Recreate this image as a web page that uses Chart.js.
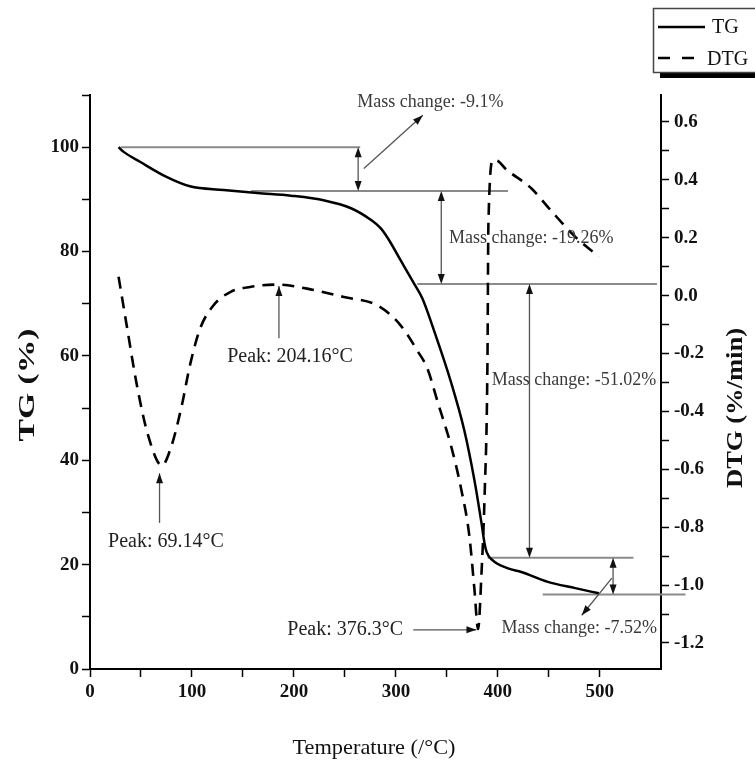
<!DOCTYPE html>
<html>
<head>
<meta charset="utf-8">
<script src="https://cdn.jsdelivr.net/npm/chart.js@4.4.1/dist/chart.umd.min.js"></script>
<style>
  html, body { margin: 0; padding: 0; background: #fff; }
</style>
</head>
<body>
<canvas id="tga" width="755" height="767"></canvas>
<script>
// TG curve (solid line): temperature (°C) and remaining mass (%)
const tgTemp = [28, 33, 49, 75, 98, 131, 164, 197, 230, 256, 276, 285, 292, 305, 318, 326, 338, 354, 367, 377, 384, 387, 389, 395, 410, 423, 449, 476, 499];
const tgMass = [100, 99.1, 97.2, 94.3, 92.5, 91.8, 91.2, 90.7, 89.8, 88.3, 86.0, 84.5, 82.6, 78.2, 73.8, 71.0, 64.5, 55.0, 45.8, 36.2, 27.9, 24.0, 22.4, 20.8, 19.3, 18.6, 16.7, 15.5, 14.5];

// DTG curve (dashed line): temperature (°C) and rate (%/min)
const dtgTemp = [28, 36, 46, 57, 70.5, 80, 90, 98, 108, 121, 138, 157, 185, 213, 249, 282, 304, 321, 331, 341, 354, 364, 372, 377, 380.6, 384, 387, 389.8, 390.7, 395.4, 400.6, 407, 433, 453, 476, 499];
const dtgRate = [0.065, -0.103, -0.31, -0.483, -0.587, -0.518, -0.38, -0.241, -0.114, -0.034, 0.013, 0.030, 0.038, 0.024, -0.005, -0.034, -0.1, -0.19, -0.253, -0.368, -0.518, -0.668, -0.829, -1.014, -1.152, -0.956, -0.691, -0.229, 0.243, 0.468, 0.464, 0.44, 0.37, 0.29, 0.203, 0.134];

// mass-change levels (grey horizontal guides)
const levelMass = [100, 91.6, 73.8, 21.3, 14.3];
const levelFrom = [30, 158, 321, 390, 444];
const levelTo = [265, 410, 556, 533, 584];

// tick labels
const tempLabels = [0, 100, 200, 300, 400, 500];
const tgLabels = [0, 20, 40, 60, 80, 100];
const dtgLabels = ['-1.2', '-1.0', '-0.8', '-0.6', '-0.4', '-0.2', '0.0', '0.2', '0.4', '0.6'];

// annotations, in data units (temperature, mass %)
const arrowTemp = [263, 344.5, 431, 513];
const massTexts = ['Mass change: -9.1%', 'Mass change: -19.26%', 'Mass change: -51.02%', 'Mass change: -7.52%'];
const massTextAt = [[262, 108.7], [352, 82.6], [394, 55.4], [403.5, 7.85]];
const peakTexts = ['Peak: 69.14°C', 'Peak: 204.16°C', 'Peak: 376.3°C'];
const peakTextAt = [[17.7, 24.4], [134.5, 59.8], [193.5, 7.5]];
const pointers = [
  [268.6, 95.9, 326.4, 106.1],
  [511.8, 17.4, 482.3, 10.3],
  [68.2, 28, 68.2, 37.5],
  [185.3, 63.4, 185.3, 73.4],
  [317, 7.5, 379, 7.5]
];

const serif = '"Liberation Serif", "Times New Roman", serif';

const toPoints = (xs, ys) => xs.map((t, i) => ({ x: t, y: ys[i] }));

const levelSets = levelMass.map((m, i) => ({
  data: [{ x: levelFrom[i], y: m }, { x: levelTo[i], y: m }],
  yAxisID: 'y',
  borderColor: '#8a8a8a',
  borderWidth: 2,
  pointRadius: 0,
  clip: false
}));

function onlySteps(step) {
  return scale => {
    scale.ticks = scale.ticks.filter(t => Math.abs(t.value / step - Math.round(t.value / step)) < 1e-6);
  };
}

function arrowHead(ctx, x1, y1, x2, y2, len, half) {
  const a = Math.atan2(y2 - y1, x2 - x1);
  ctx.beginPath();
  ctx.moveTo(x2, y2);
  ctx.lineTo(x2 - len * Math.cos(a) + half * Math.sin(a), y2 - len * Math.sin(a) - half * Math.cos(a));
  ctx.lineTo(x2 - len * Math.cos(a) - half * Math.sin(a), y2 - len * Math.sin(a) + half * Math.cos(a));
  ctx.closePath();
  ctx.fill();
}

function segment(ctx, x1, y1, x2, y2) {
  ctx.beginPath();
  ctx.moveTo(x1, y1);
  ctx.lineTo(x2, y2);
  ctx.stroke();
}

// text stretched to a given length
function fitText(ctx, text, cx, cy, angle, length) {
  ctx.save();
  ctx.translate(cx, cy);
  ctx.rotate(angle);
  const w = ctx.measureText(text).width;
  ctx.scale(length / w, 1);
  ctx.textAlign = 'center';
  ctx.textBaseline = 'middle';
  ctx.fillText(text, 0, 0);
  ctx.restore();
}

const annotate = {
  id: 'annotate',
  afterDatasetsDraw(chart) {
    const { ctx, scales: { x, y } } = chart;
    const px = t => x.getPixelForValue(t);
    const py = m => y.getPixelForValue(m);
    ctx.save();

    // double arrows between mass levels
    arrowTemp.forEach((t, i) => {
      const X = px(t), a = py(levelMass[i]), b = py(levelMass[i + 1]);
      ctx.strokeStyle = '#555';
      ctx.lineWidth = 1.3;
      segment(ctx, X, a + 4, X, b - 4);
      ctx.fillStyle = '#111';
      arrowHead(ctx, X, (a + b) / 2, X, a, 10, 3.5);
      arrowHead(ctx, X, (a + b) / 2, X, b, 10, 3.5);
    });

    // pointer arrows
    pointers.forEach(p => {
      const x1 = px(p[0]), y1 = py(p[1]), x2 = px(p[2]), y2 = py(p[3]);
      ctx.strokeStyle = '#555';
      ctx.lineWidth = 1.3;
      segment(ctx, x1, y1, x2, y2);
      ctx.fillStyle = '#111';
      arrowHead(ctx, x1, y1, x2, y2, 10, 3.5);
    });

    ctx.textAlign = 'left';
    ctx.textBaseline = 'middle';
    ctx.fillStyle = '#3a3a3a';
    ctx.font = '18px ' + serif;
    massTexts.forEach((s, i) => ctx.fillText(s, px(massTextAt[i][0]), py(massTextAt[i][1])));
    ctx.fillStyle = '#222';
    ctx.font = '20px ' + serif;
    peakTexts.forEach((s, i) => ctx.fillText(s, px(peakTextAt[i][0]), py(peakTextAt[i][1])));
    ctx.restore();
  },
  afterDraw(chart) {
    const { ctx } = chart;
    ctx.save();
    ctx.fillStyle = '#111';
    // axis titles
    ctx.font = 'bold 24px ' + serif;
    fitText(ctx, 'TG (%)', 28, 385, -Math.PI / 2, 113);
    fitText(ctx, 'DTG (%/min)', 736, 408, -Math.PI / 2, 160);
    ctx.font = '22px ' + serif;
    fitText(ctx, 'Temperature (/°C)', 374, 748, 0, 163);

    // legend box
    ctx.fillStyle = '#000';
    ctx.fillRect(660, 72, 100, 6);
    ctx.fillStyle = '#fff';
    ctx.fillRect(653, 8, 110, 64);
    ctx.strokeStyle = '#444';
    ctx.lineWidth = 1.5;
    ctx.strokeRect(653.5, 8.5, 110, 64);
    ctx.strokeStyle = '#000';
    ctx.lineWidth = 2.5;
    segment(ctx, 658, 27, 705, 27);
    ctx.setLineDash([12, 12]);
    segment(ctx, 658, 58, 694, 58);
    ctx.setLineDash([]);
    ctx.fillStyle = '#111';
    ctx.font = '20px ' + serif;
    ctx.textAlign = 'left';
    ctx.textBaseline = 'middle';
    ctx.fillText('TG', 712, 28);
    ctx.fillText('DTG', 707, 60);
    ctx.restore();
  }
};

const axisLook = {
  grid: { drawOnChartArea: false, color: '#000', tickLength: 8, tickWidth: 1.5 },
  border: { display: true, color: '#000', width: 2 }
};

new Chart(document.getElementById('tga'), {
  type: 'line',
  data: {
    datasets: [
      {
        label: 'TG',
        data: toPoints(tgTemp, tgMass),
        yAxisID: 'y',
        borderColor: '#000',
        borderWidth: 2.5,
        pointRadius: 0,
        cubicInterpolationMode: 'monotone'
      },
      {
        label: 'DTG',
        data: toPoints(dtgTemp, dtgRate),
        yAxisID: 'y1',
        borderColor: '#000',
        borderWidth: 2.6,
        borderDash: [12, 8],
        pointRadius: 0,
        cubicInterpolationMode: 'monotone'
      },
      ...levelSets
    ]
  },
  options: {
    responsive: false,
    animation: false,
    layout: { padding: { top: 95, left: 0, right: 0, bottom: 0 } },
    plugins: { legend: { display: false }, tooltip: { enabled: false } },
    scales: {
      x: {
        type: 'linear',
        position: 'bottom',
        min: 0,
        max: 560,
        afterBuildTicks: onlySteps(50),
        afterFit: s => { s.height = 98; },
        ticks: {
          stepSize: 50,
          autoSkip: false,
          maxRotation: 0,
          padding: 4,
          color: '#111',
          font: { family: serif, size: 19, weight: 'bold' },
          callback: v => tempLabels.includes(v) ? String(v) : ''
        },
        ...axisLook
      },
      y: {
        position: 'left',
        min: 0,
        max: 110,
        afterBuildTicks: onlySteps(10),
        afterFit: s => { s.width = 90; },
        ticks: {
          stepSize: 10,
          autoSkip: false,
          padding: 3,
          color: '#111',
          font: { family: serif, size: 19, weight: 'bold' },
          callback: v => tgLabels.includes(v) ? String(v) : ''
        },
        ...axisLook
      },
      y1: {
        position: 'right',
        min: -1.29,
        max: 0.693,
        afterBuildTicks: onlySteps(0.1),
        afterFit: s => { s.width = 94; },
        ticks: {
          stepSize: 0.1,
          autoSkip: false,
          padding: 5,
          color: '#111',
          font: { family: serif, size: 19, weight: 'bold' },
          callback: v => {
            const s = (Math.round(v * 10) / 10).toFixed(1);
            return dtgLabels.includes(s) ? s : '';
          }
        },
        ...axisLook
      }
    }
  },
  plugins: [annotate]
});
</script>
</body>
</html>
